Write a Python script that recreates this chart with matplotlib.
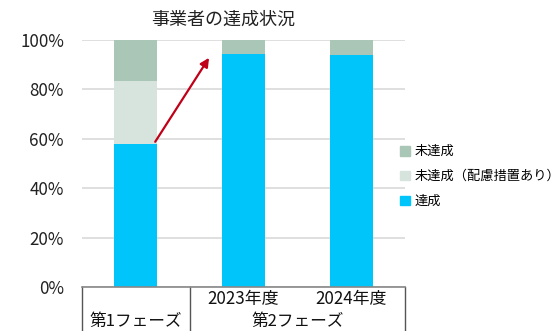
import matplotlib
matplotlib.use("Agg")
import matplotlib.pyplot as plt
from matplotlib.patches import Patch

plt.rcParams['font.family'] = ['Noto Sans CJK JP', 'DejaVu Sans']

# data
years = ["", "2023年度", "2024年度"]
phases = ["第1フェーズ", "第2フェーズ"]
phase_span = [(0, 0), (1, 2)]
achieved = [58.0, 94.5, 94.0]
considered = [25.5, 0.0, 0.0]
not_achieved = [16.5, 5.5, 6.0]
yticks = [0, 20, 40, 60, 80, 100]

c_ach = "#00C5FA"
c_con = "#D7E4DD"
c_not = "#AAC6B6"

fig = plt.figure(figsize=(5.6, 3.31), dpi=100)
ax = fig.add_axes([82 / 560, 1 - 287 / 331, (405 - 82) / 560, (287 - 40) / 331])

x = list(range(len(years)))
w = 0.4
ax.bar(x, achieved, w, color=c_ach, zorder=2)
bottom2 = achieved
ax.bar(x, considered, w, bottom=bottom2, color=c_con, zorder=2)
bottom3 = [a + b for a, b in zip(achieved, considered)]
ax.bar(x, not_achieved, w, bottom=bottom3, color=c_not, zorder=2)

ax.set_xlim(-0.5, 2.5)
ax.set_ylim(0, 100)
ax.set_yticks(yticks)
ax.set_yticklabels([f"{v}%" for v in yticks], fontsize=12.2, color="#222222")
ax.tick_params(axis='y', length=0, pad=13)
ax.set_xticks([])
ax.grid(axis='y', color="#D9D9D9", lw=1.2, zorder=0)
for s in ['left', 'right', 'top']:
    ax.spines[s].set_visible(False)
ax.spines['bottom'].set_color("#888888")
ax.spines['bottom'].set_linewidth(1.2)

# category table under the axis
tr = ax.get_xaxis_transform()
for xv in [-0.5, 0.5, 2.5]:
    ax.plot([xv, xv], [0, -0.25], transform=tr, color="#555555", lw=1.0, clip_on=False)
for i, lab in enumerate(years):
    ax.text(i, -0.05, lab, transform=tr, ha='center', va='center', fontsize=12.2, color="#111111")
for (a, b), lab in zip(phase_span, phases):
    ax.text((a + b) / 2, -0.138, lab, transform=tr, ha='center', va='center', fontsize=12, color="#111111")

# arrow
ax.annotate('', xy=(1 - w / 2 - 0.12, 92.8), xytext=(w / 2 - 0.02, achieved[0] + 0.8),
            arrowprops=dict(arrowstyle='-|>', color="#C00018", lw=1.6, mutation_scale=13,
                            shrinkA=0, shrinkB=0), zorder=3)

fig.text(223 / 560, 1 - 20 / 331, "事業者の達成状況", ha='center', va='center', fontsize=13, color="#222222")

handles = [Patch(color=c_not), Patch(color=c_con), Patch(color=c_ach)]
labels = ["未達成", "未達成（配慮措置あり）", "達成"]
fig.legend(handles, labels, loc='upper left', bbox_to_anchor=(395 / 560, 1 - 140 / 331),
           frameon=False, fontsize=9.5, handlelength=0.75, handleheight=0.75,
           handletextpad=0.3, labelspacing=0.9, borderaxespad=0)

fig.savefig("out.png", dpi=100)
